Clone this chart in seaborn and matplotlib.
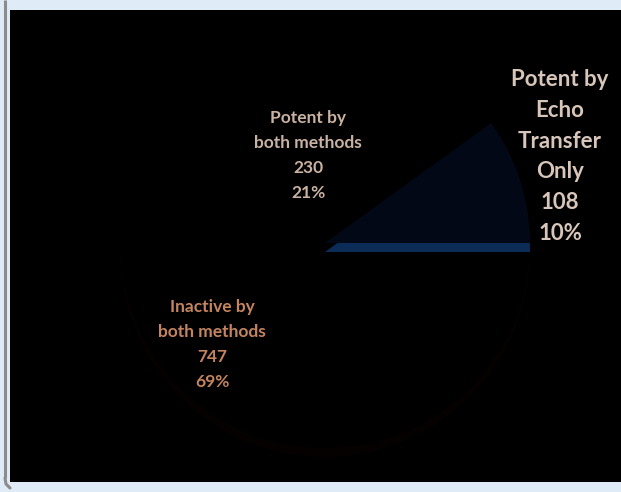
import matplotlib
matplotlib.use("Agg")
import matplotlib.pyplot as plt
from matplotlib.patches import Rectangle
import seaborn as sns

# ---- data ----
categories = ["Potent by Echo Transfer Only", "Potent by both methods", "Inactive by both methods"]
counts = [108, 230, 747]
percents = ["10%", "21%", "69%"]
label_lines = [["Potent by", "Echo", "Transfer", "Only"],
               ["Potent by", "both methods"],
               ["Inactive by", "both methods"]]

sns.set_theme(style="white")
plt.rcParams['font.family'] = ['Lato', 'DejaVu Sans']

W, H = 621, 492
fig = plt.figure(figsize=(W / 100, H / 100), dpi=100)
fig.patch.set_facecolor("#dfebf6")
ax = fig.add_axes([0, 0, 1, 1])
ax.set_xlim(0, W)
ax.set_ylim(H, 0)
ax.axis("off")

# black slide area and left grey border
ax.add_patch(Rectangle((10, 10), 611, 472, facecolor="black", edgecolor="none", zorder=0))
ax.plot([5, 5], [0, 478], color="#8c8c8c", lw=2.2, solid_capstyle="butt", zorder=1)
ax.plot([5, 6, 10], [478, 484, 488], color="#8c8c8c", lw=2.2, zorder=1)

# pie in an overlay axes with y-up coordinates
pax = fig.add_axes([0, 0, 1, 1])
pax.patch.set_alpha(0)
cx, cy, r = 325, H - 243, 205
depth = 9
none = (0, 0, 0, 0)

# faint side of the dark slices
pax.pie(counts, startangle=0, counterclock=True, radius=r, center=(cx, cy - depth),
        colors=[none, "#030101", "#050101"], wedgeprops=dict(linewidth=0), frame=False)
# top face of the dark slices
pax.pie(counts, startangle=0, counterclock=True, radius=r, center=(cx, cy),
        colors=[none, "#000000", "#000000"], wedgeprops=dict(linewidth=0), frame=False)
# side of the blue slice (in front)
pax.pie(counts, startangle=0, counterclock=True, radius=r, center=(cx, cy - depth),
        colors=["#0c2c58", none, none], wedgeprops=dict(linewidth=0), frame=False)
# top face of the blue slice
pax.pie(counts, startangle=0, counterclock=True, radius=r, center=(cx, cy),
        colors=["#030817", none, none], wedgeprops=dict(linewidth=0), frame=False)
pax.set_xlim(0, W)
pax.set_ylim(0, H)
pax.set_aspect("auto")
pax.axis("off")

# labels (placed in the overlay, y measured from top)
def block(x, y0, lines, step, size, color):
    for i, t in enumerate(lines):
        pax.text(x, H - (y0 + i * step), t, ha="center", va="center", fontsize=size,
                 color=color, fontweight="bold", zorder=5)

block(560, 80, label_lines[0] + [str(counts[0]), percents[0]], 30.6, 16, "#d8c6ba")
block(308, 118, label_lines[1] + [str(counts[1]), percents[1]], 25, 12.5, "#c9b2a2")
block(212, 307, label_lines[2] + [str(counts[2]), percents[2]], 25, 12.5, "#c4845f")

fig.savefig("out.png", dpi=100, facecolor=fig.get_facecolor())
